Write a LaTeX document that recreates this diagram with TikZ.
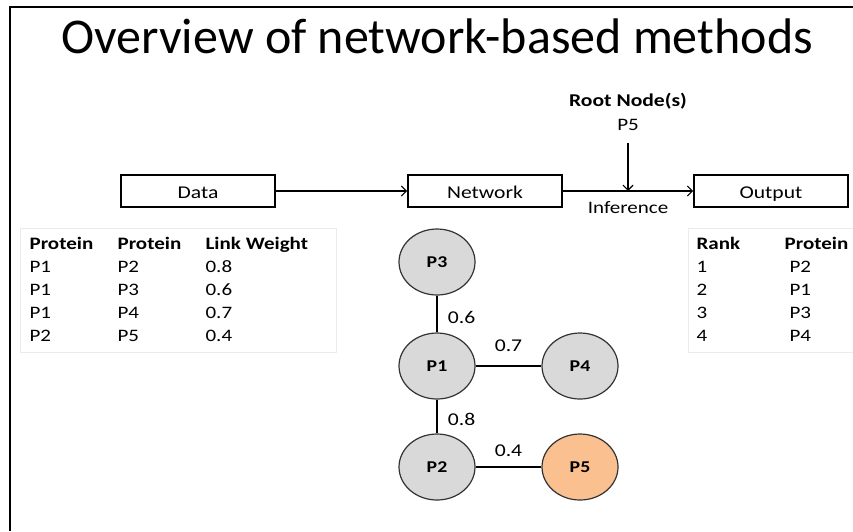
\documentclass[tikz,border=0pt]{standalone}
\usepackage{fontspec}
\setmainfont{Carlito}[FakeStretch=1.2]
\newfontfamily\titlefont{Carlito}
\usetikzlibrary{arrows.meta,positioning,shapes.geometric}
\definecolor{protgray}{HTML}{D9D9D9}
\definecolor{rootorange}{HTML}{FAC090}
\definecolor{tableline}{HTML}{EBEBEB}

\begin{document}
\begin{tikzpicture}[x=1pt,y=-1pt,>={Straight Barb[length=5pt,width=10pt]},line width=1.2pt,
    stage/.style={draw,line width=1.6pt,minimum width=154pt,minimum height=32pt,inner sep=0pt,text height=15pt,text depth=1pt,font=\fontsize{18}{20}\selectfont},
    prot/.style={ellipse,draw=black!80,line width=1.2pt,fill=protgray,minimum width=76pt,minimum height=66pt,inner sep=0pt,font=\bfseries\fontsize{16.5}{18}\selectfont},
    root/.style={prot,fill=rootorange},
    weight/.style={font=\fontsize{18}{20}\selectfont},
    table/.style={anchor=base west,inner sep=0pt,font=\fontsize{17.5}{23}\selectfont}]
    \useasboundingbox (0,0) rectangle (853,531);
    \draw [line width=2.5pt] (10,531) -- (10,7) -- (853,7);

    \node   [font=\titlefont\fontsize{50}{54}\selectfont]   (title)     at (437,36) {Overview of network-based methods};

    % pipeline
    \node   [stage]                                     (network)   at (485,191) {Network};
    \node   [stage]   [left of=network,node distance=287pt]   (data)     {Data};
    \node   [stage]   [right of=network,node distance=286pt]  (output)   {Output};

    \node   [font=\bfseries\fontsize{18}{20}\selectfont]    (rootlabel) at (628,101) {Root Node(s)};
    \node   [font=\fontsize{17.5}{19}\selectfont]   [below of=rootlabel,node distance=24pt]   (rootp5) {P5};
    \coordinate (rootjoin) at (rootp5 |- network);

    \path   [->] (data) edge (network);
    \path   [->] (network) edge node [below=7pt,font=\fontsize{17.5}{19}\selectfont] {Inference} (output);
    \draw   [->,shorten <=8pt] (rootp5) -- (rootjoin);

    % tables
    \draw   [tableline,fill=white,line width=1pt] (20,228) rectangle (336,352);
    \node   [table] (links) at (29,249) {\begin{tabular}[t]{@{}p{88pt}@{}p{88pt}@{}l@{}}
        \textbf{Protein} & \textbf{Protein} & \textbf{Link Weight}\\
        P1 & P2 & 0.8\\
        P1 & P3 & 0.6\\
        P1 & P4 & 0.7\\
        P2 & P5 & 0.4
    \end{tabular}};
    \draw   [tableline,fill=white,line width=1pt] (688,228) rectangle (855,352);
    \node   [table] (ranks) at (696,249) {\begin{tabular}[t]{@{}p{88pt}@{}l@{}}
        \textbf{Rank} & \textbf{Protein}\\
        1 & \hspace{5pt}P2\\
        2 & \hspace{5pt}P1\\
        3 & \hspace{5pt}P3\\
        4 & \hspace{5pt}P4
    \end{tabular}};

    % network
    \node   [prot]                                      (p1)    at (437,366) {P1};
    \node   [prot]    [above of=p1,node distance=104pt] (p3)    {P3};
    \node   [prot]    [below of=p1,node distance=101pt] (p2)    {P2};
    \node   [prot]    [right of=p1,node distance=143pt] (p4)    {P4};
    \node   [root]    [right of=p2,node distance=143pt] (p5)    {P5};

    \path   (p3) edge node [weight,right=7pt,yshift=-3pt] {0.6} (p1);
    \path   (p1) edge node [weight,above=10pt] {0.7} (p4);
    \path   (p1) edge node [weight,right=7pt,yshift=-3pt] {0.8} (p2);
    \path   (p2) edge node [weight,above=6pt] {0.4} (p5);
\end{tikzpicture}
\end{document}
